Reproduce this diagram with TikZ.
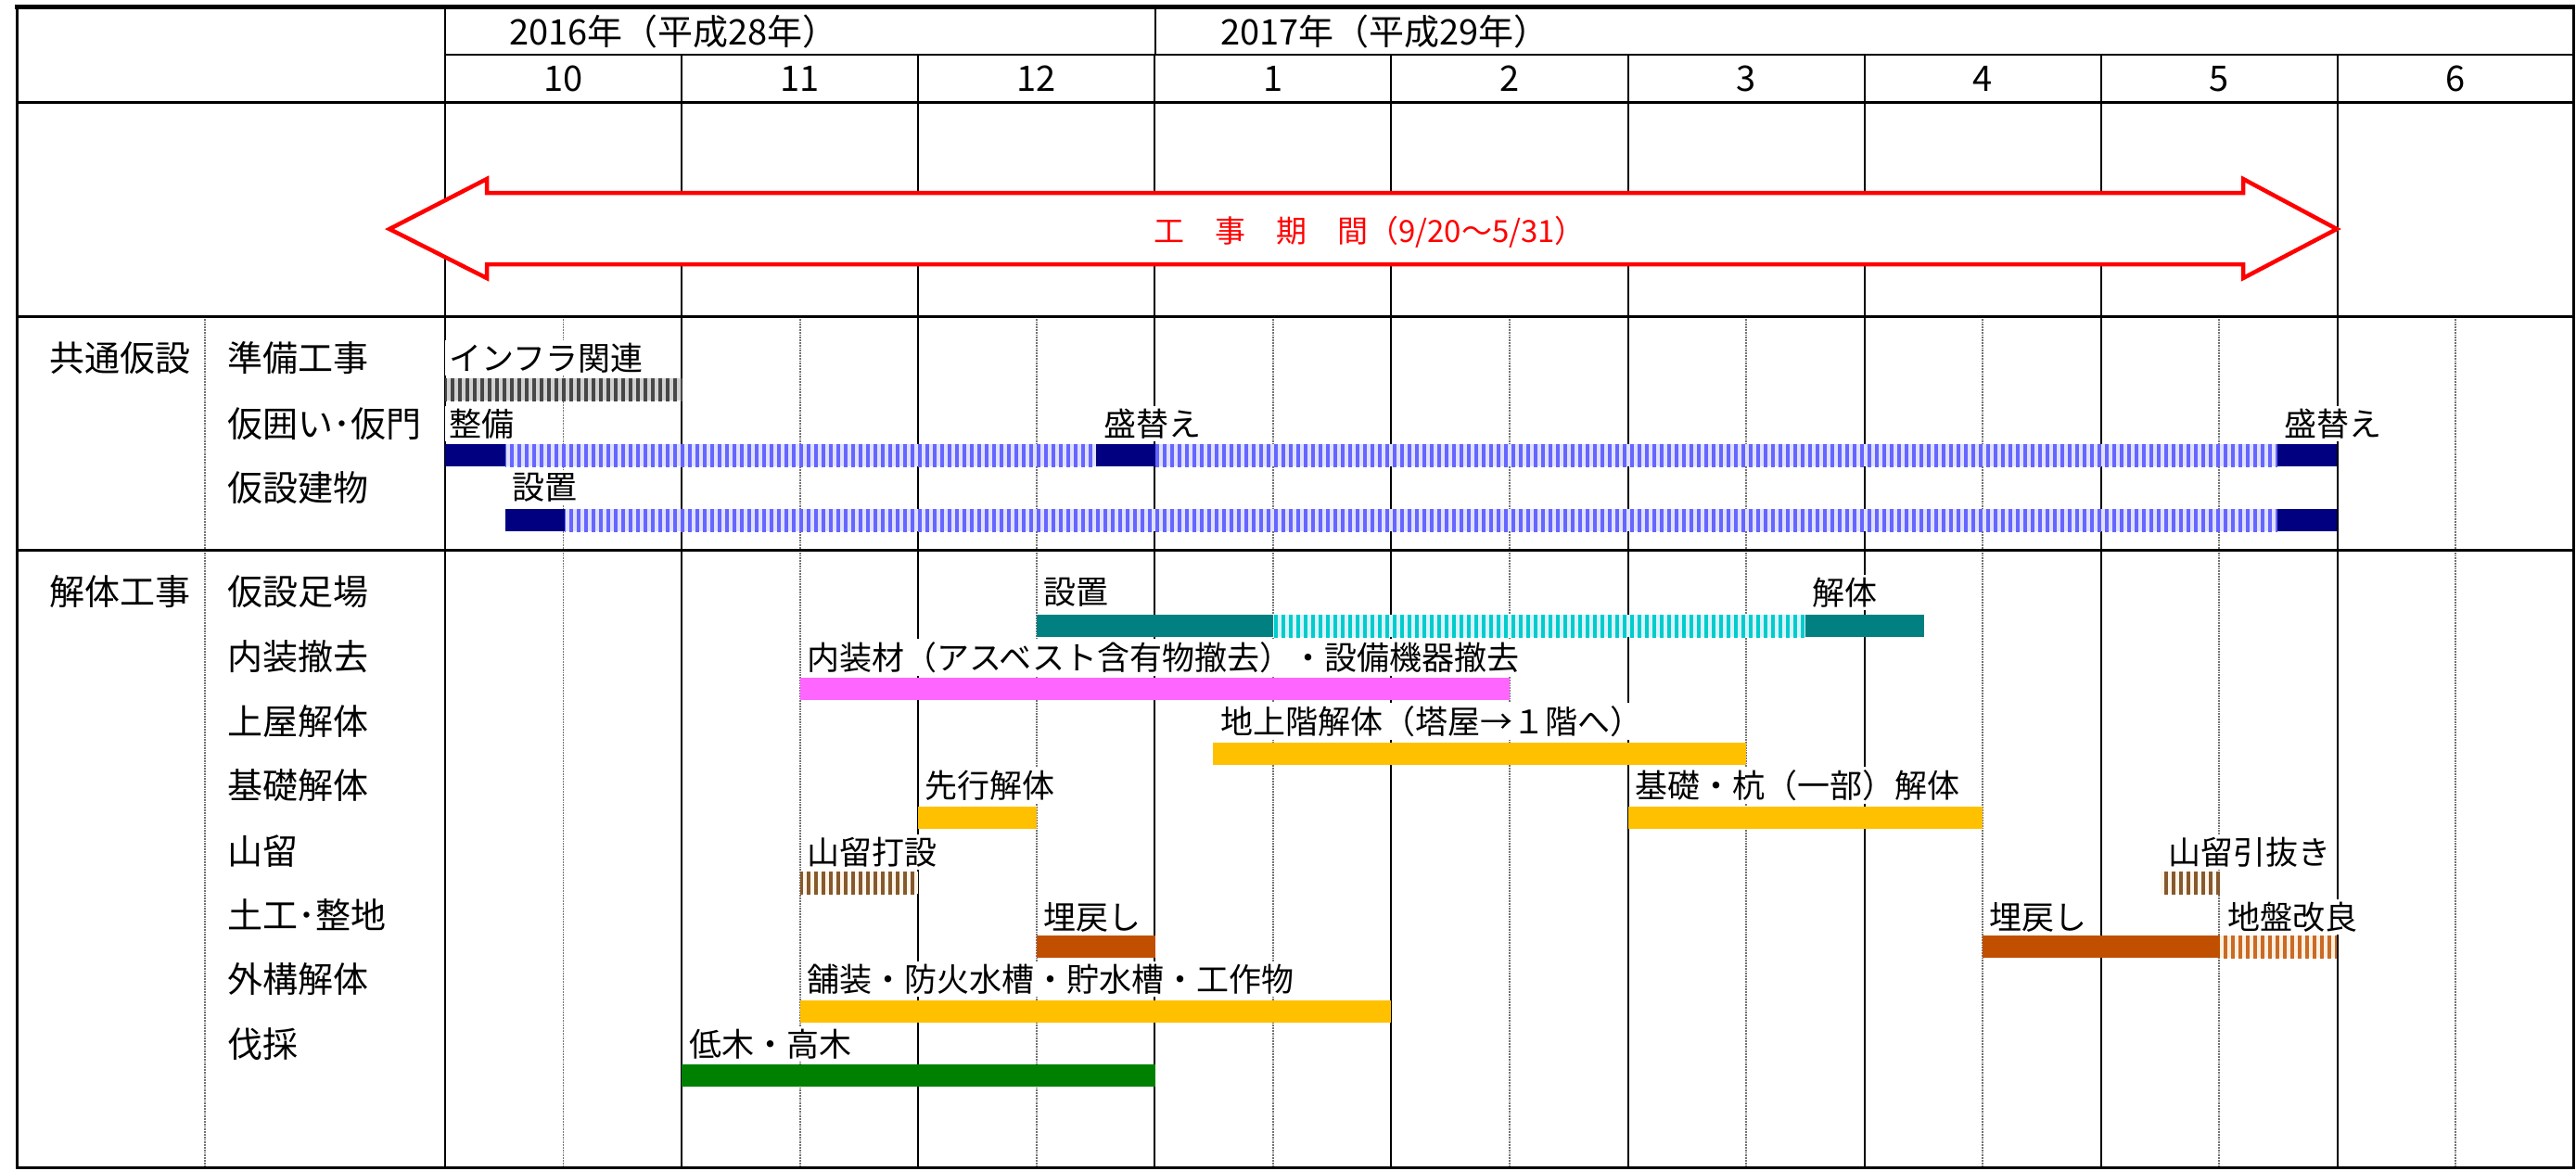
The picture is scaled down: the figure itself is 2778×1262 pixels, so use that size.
\documentclass[tikz,border=0pt]{standalone}
\usepackage{fontspec}
\setmainfont{Noto Sans CJK JP}
\usetikzlibrary{patterns.meta}
\definecolor{kNavy}{RGB}{0,0,128}
\definecolor{kTeal}{RGB}{0,128,128}
\definecolor{kMag}{RGB}{255,102,255}
\definecolor{kAmb}{RGB}{255,192,0}
\definecolor{kRust}{RGB}{192,80,0}
\definecolor{kGrn}{RGB}{0,128,0}
\begin{document}
\begin{tikzpicture}[x=1pt,y=-1pt,
 txt/.style={font=\fontsize{35}{40}\selectfont,inner sep=0pt},
 big/.style={txt,font=\fontsize{38}{44}\selectfont},
 lbl/.style={txt,anchor=west,fill=white,inner xsep=4pt,inner ysep=3pt},
 mline/.style={line width=2pt},
 hline/.style={black!55,line width=1.8pt,densely dotted},
 stripe/.style 2 args={preaction={fill=#2},pattern={Lines[angle=90,distance=8pt,line width=4.2pt]},pattern color=#1},
 gryS/.style={stripe={black!72}{black!18}}, bluS/.style={stripe={blue!60}{blue!12}},
 teaS/.style={stripe={cyan!60!teal}{cyan!15}}, brnS/.style={stripe={brown!70!black}{orange!8}},
 ochS/.style={stripe={kRust!85}{orange!12}},
 navB/.style={fill=kNavy}, teaB/.style={fill=kTeal}, magB/.style={fill=kMag},
 ambB/.style={fill=kAmb}, rstB/.style={fill=kRust}, grnB/.style={fill=kGrn}]
\useasboundingbox (0,0) rectangle (2778,1262);
% grid
\foreach \m in {0,...,8} \draw[hline] ({607.5+\m*255.1},341) -- ++(0,918);
\draw[hline] (221,341) -- (221,1259);
\draw[mline] (480,59) -- (2775,59) (480,7) -- (480,1259) (1245.5,7) -- (1245.5,59);
\foreach \m in {1,...,8} \draw[mline] ({480+\m*255.1},59) -- ++(0,1200);
\foreach \y in {110,341,593} \draw[line width=3pt] (18,\y) -- (2775,\y);
\draw[line width=3pt] (18,7) rectangle (2775,1259);
\draw[line width=5pt] (16,7) -- (2777,7);
% period arrow
\draw[red,line width=4.5pt,fill=white] (420,247) -- (525,193) -- (525,208) -- (2419,208) -- (2419,193) -- (2520,247)
 -- (2419,300) -- (2419,285) -- (525,285) -- (525,300) -- cycle;
\node[txt,red,font=\fontsize{33}{38}\selectfont] (period) at (1477,250) {工　事　期　間（9/20～5/31）};
% header
\node[big,anchor=west] (y16) at (549,34) {2016年（平成28年）};
\node[big,anchor=west] (y17) at (1316,34) {2017年（平成29年）};
\foreach \t [count=\i from 0] in {10,11,12,1,2,3,4,5,6} \node[big] (m\t) at ({607.5+\i*255.1},85) {\t};
% row titles
\path (53,386) node[big,anchor=west] (kyotsu) {共通仮設} (53,638) node[big,anchor=west] (kaitai) {解体工事};
\foreach \y/\t [count=\i] in {386/準備工事,457/仮囲い･仮門,526/仮設建物,638/仮設足場,708/内装撤去,778/上屋解体,
 847/基礎解体,918/山留,987/土工･整地,1056/外構解体,1126/伐採} \node[big,anchor=west] (item\i) at (245,\y) {\t};
% bars
\foreach \a/\b/\y/\s in {480/736/408/gryS, 480/545/479/navB, 545/1182/479/bluS, 1182/1245.5/479/navB, 1245.5/2456/479/bluS,
 2456/2520/479/navB, 545/609/549/navB, 609/2456/549/bluS, 2456/2520/549/navB,
 1118/1373/663/teaB, 1373/1947/663/teaS, 1947/2075/663/teaB, 863/1628/731/magB, 1308/1883/801/ambB,
 990/1118/870/ambB, 1756/2138/870/ambB, 863/990/940/brnS, 2330/2394/940/brnS,
 1118/1245.5/1009/rstB, 2138/2394/1009/rstB, 2394/2520/1009/ochS, 863/1500/1079/ambB, 735/1245.5/1148/grnB}
 \path[\s] (\a,\y) rectangle (\b,{\y+24});
% bar labels
\foreach \x/\y/\t [count=\i] in {480/386/インフラ関連, 480/457/整備, 1186/457/盛替え, 2459/457/盛替え, 548/526/設置,
 1121/639/設置, 1950/639/解体, 866/709/内装材（アスベスト含有物撤去）・設備機器撤去, 1312/778/地上階解体（塔屋→１階へ）,
 993/847/先行解体, 1759/847/基礎・杭（一部）解体, 866/919/山留打設, 2334/919/山留引抜き, 1121/989/埋戻し,
 2141/989/埋戻し, 2398/989/地盤改良, 866/1056/舗装・防火水槽・貯水槽・工作物, 739/1126/低木・高木}
 \node[lbl] (lbl\i) at (\x,\y) {\t};
\end{tikzpicture}
\end{document}
